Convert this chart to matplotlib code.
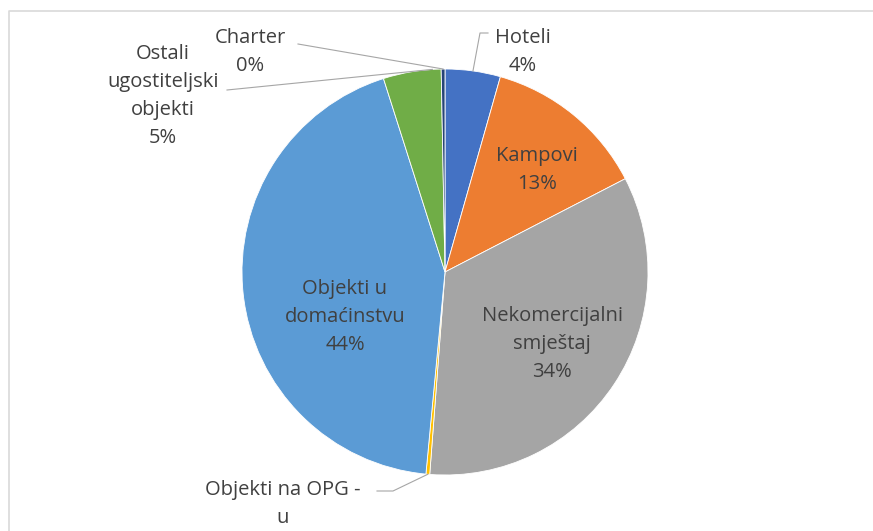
import numpy as np
import matplotlib.pyplot as plt

# share of overnight stays by accommodation type (%)
categories = ['Hoteli', 'Kampovi', 'Nekomercijalni smještaj', 'Objekti na OPG - u',
              'Objekti u domaćinstvu', 'Ostali ugostiteljski objekti', 'Charter']
values = [4.4, 13.0, 33.8, 0.3, 43.6, 4.6, 0.3]
pct_labels = ['4%', '13%', '34%', '', '44%', '5%', '0%']
colors = ['#4472C4', '#ED7D31', '#A5A5A5', '#FFC000', '#5B9BD5', '#70AD47', '#264478']

W, H = 873, 531
fig = plt.figure(figsize=(W / 100, H / 100), dpi=100)
ax = fig.add_axes([0, 0, 1, 1])

# chart border (partly cut off in the screenshot)
ax.plot([9, 9, W + 5], [-5, H - 11, H - 11], color='#d9d9d9', lw=1.2)

cx, cy, r = 445, H - 272, 203
wedges, _ = ax.pie(values, colors=colors, startangle=90, counterclock=False,
                   center=(cx, cy), radius=r, frame=True,
                   wedgeprops=dict(edgecolor='white', linewidth=0.6))
ax.set_xlim(0, W)
ax.set_ylim(0, H)
ax.set_aspect('equal')
ax.axis('off')

txt = dict(fontsize=14.5, family='Open Sans', color='#404040', ha='center', va='center',
           linespacing=1.55)


def edge_point(w, frac=0.5):
    a = np.deg2rad(w.theta1 + (w.theta2 - w.theta1) * frac)
    return cx + r * np.cos(a), cy + r * np.sin(a)


def lbl(i, x, y, name=None):
    name = name if name is not None else categories[i]
    s = name + ('\n' + pct_labels[i] if pct_labels[i] else '')
    ax.text(x, H - y, s, **txt)


# inside labels
lbl(1, 537, 170)
lbl(2, 552, 344, 'Nekomercijalni\nsmještaj')
lbl(4, 345, 317, 'Objekti u\ndomaćinstvu')

# outside labels with leader lines
lbl(0, 523, 52)
px, py = edge_point(wedges[0])
ax.plot([488, 480, px], [H - 33, H - 33, py], color='#a6a6a6', lw=0.8)

lbl(6, 250, 52)
px, py = edge_point(wedges[6])
ax.plot([298, px], [H - 44, py], color='#a6a6a6', lw=0.8)

lbl(5, 163, 96, 'Ostali\nugostiteljski\nobjekti')
px, py = edge_point(wedges[5], 0.15)
ax.plot([227, px], [H - 90, py], color='#a6a6a6', lw=0.8)

lbl(3, 283, 504, 'Objekti na OPG -\nu')
px, py = edge_point(wedges[3])
ax.plot([377, 393, px], [H - 491, H - 491, py], color='#a6a6a6', lw=0.8)

fig.savefig('out.png', dpi=100, facecolor='white')
